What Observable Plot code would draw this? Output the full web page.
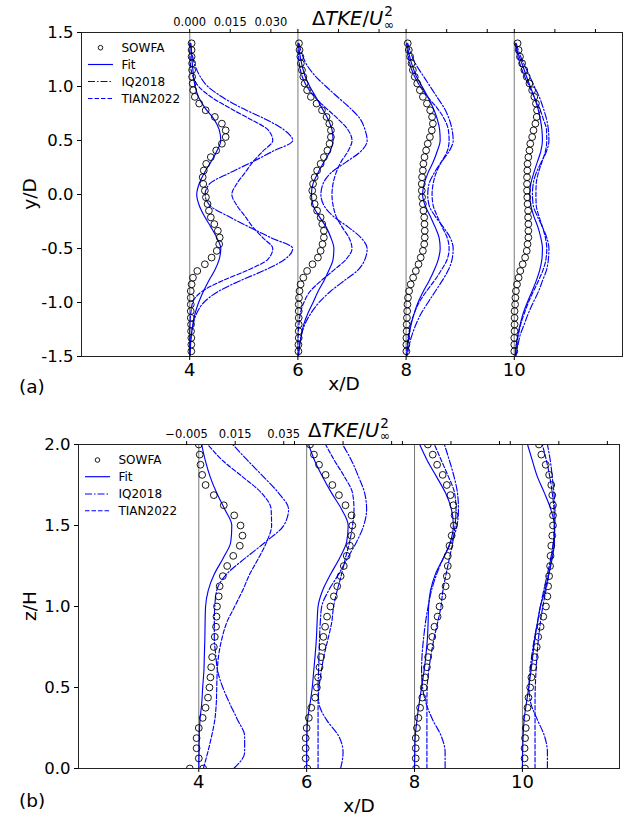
<!DOCTYPE html>
<html>
<head>
<meta charset="utf-8">
<script src="https://cdn.jsdelivr.net/npm/d3@7"></script>
<script src="https://cdn.jsdelivr.net/npm/@observablehq/plot@0.6"></script>
<style>
  html, body { margin: 0; padding: 0; background: #fff; }
  #fig { position: relative; width: 624px; height: 816px; overflow: hidden; background: #fff; }
  #fig svg { position: absolute; left: 0; }
</style>
</head>
<body>
<div id="fig"></div>
<script>
// ---------------- DATA ----------------
const profilesX = [4, 6, 8, 10];                 // x/D of each profile
const seriesNames = ["SOWFA", "Fit", "IQ2018", "TIAN2022"];

// Panel (a): lateral profiles.  Values are ΔTKE/U∞² × 10³
const yLineA = [1.4,1.3,1.2,1.1,1.0,0.9,0.8,0.7,0.6,0.5,0.4,0.3,0.2,0.1,0.0,-0.1,-0.2,-0.3,-0.4,-0.5,-0.6,-0.7,-0.8,-0.9,-1.0,-1.1,-1.2,-1.3,-1.4,-1.5];
const ySowfaA = [1.400,1.338,1.276,1.214,1.152,1.090,1.028,0.966,0.904,0.842,0.780,0.718,0.656,0.594,0.532,0.470,0.408,0.346,0.284,0.222,0.160,0.098,0.036,-0.026,-0.088,-0.150,-0.212,-0.274,-0.336,-0.398,-0.460,-0.522,-0.584,-0.646,-0.708,-0.770,-0.832,-0.894,-0.956,-1.018,-1.080,-1.142,-1.204,-1.266,-1.328,-1.390,-1.452];

const fitA = [
  [0.4,0.7,1.0,1.4,2.0,3.3,5.7,8.9,10.9,11.5,10.0,7.8,5.4,3.5,2.6,3.5,5.4,7.8,10.0,11.5,10.9,9.3,7.0,5.0,3.3,2.0,1.2,0.6,0.3,0.1],
  [0.2,0.7,1.5,2.6,4.4,6.7,8.9,11.1,12.6,13.0,11.9,9.6,7.4,5.6,5.0,5.6,7.8,10.4,12.2,13.3,13.0,11.5,9.6,7.4,5.6,3.7,2.2,1.3,0.6,0.2],
  [0.3,1.1,2.2,3.7,5.9,8.1,10.0,11.5,12.4,12.6,11.5,10.0,8.1,6.7,6.1,7.0,8.9,10.7,12.2,12.6,11.9,10.4,8.5,6.3,4.4,3.0,1.9,1.1,0.6,0.2],
  [0.4,1.5,3.0,4.4,5.9,7.4,8.7,9.6,10.2,10.4,9.8,8.5,7.2,6.1,5.7,6.1,7.2,8.7,9.8,10.4,10.2,9.4,8.1,6.5,4.8,3.3,2.2,1.3,0.7,0.3]
];
const iqA = [
  [0.3,0.9,1.9,3.7,6.7,12.2,19.3,27.8,34.8,38.1,30.7,23.0,14.8,7.4,5.7,7.4,14.1,21.9,30.0,38.1,35.2,27.8,18.5,10.4,5.2,2.6,1.3,0.6,0.2,0.1],
  [0.4,1.5,3.3,6.3,10.4,14.8,19.3,23.0,24.8,25.6,23.3,17.8,12.2,9.3,8.5,9.6,13.0,18.5,23.3,25.6,24.8,22.2,17.0,11.9,7.8,4.8,2.6,1.3,0.6,0.2],
  [0.6,1.9,3.7,6.3,8.9,11.5,14.1,15.9,17.0,17.4,15.9,13.0,10.4,8.5,8.0,8.5,10.7,13.7,16.3,17.4,17.0,15.6,13.3,10.7,8.1,5.6,3.7,2.2,1.1,0.4],
  [0.7,2.0,3.7,5.6,7.4,9.3,10.7,11.9,12.6,12.8,11.9,10.0,8.1,7.0,6.7,7.0,8.5,10.4,12.0,12.8,12.6,11.9,10.4,8.9,7.0,5.2,3.7,2.2,1.3,0.6]
];
const tianA = [
  [0,0.1,0.3,1.1,3.3,8.1,14.8,22.2,28.9,30.7,27.0,23.3,20.4,17.4,15.6,17.4,20.4,23.3,27.0,30.7,28.9,21.5,11.9,4.4,1.1,0.4,0.1,0,0,0],
  [0,0.2,0.6,1.5,3.3,6.3,10.4,14.8,18.5,20.0,18.5,15.9,14.1,13.0,12.6,13.0,14.1,16.3,18.9,20.0,17.8,13.3,8.5,4.4,2.2,0.9,0.4,0.1,0,0],
  [0.2,0.7,1.5,3.0,5.2,8.1,11.5,14.1,15.6,15.9,15.2,13.0,11.1,10.0,9.6,10.0,11.5,13.3,15.2,15.9,15.2,13.0,10.4,7.4,4.8,3.0,1.7,0.9,0.4,0.1],
  [0.4,1.1,2.2,3.7,5.6,7.4,9.3,10.7,11.9,12.0,11.5,10.2,8.9,8.1,8.0,8.1,9.1,10.4,11.5,12.0,11.7,10.6,8.9,7.0,5.2,3.7,2.4,1.5,0.7,0.3]
];
const sowfaA = [
  [0.7,0.7,0.7,0.9,0.9,0.9,1.1,1.3,1.9,3.5,5.9,9.3,11.9,13.3,13.3,11.9,9.8,7.8,6.1,5.2,4.8,5.0,5.6,6.0,6.6,7.1,7.8,9.1,10.4,11.1,10.9,10.0,8.1,5.6,2.8,1.2,0.7,0.4,0.4,0.4,0.4,0.4,0.5,0.5,0.6,0.6,0.6],
  [0.4,0.6,0.9,1.1,1.5,2.0,2.5,3.4,4.8,6.9,8.9,10.6,11.6,12.2,12.2,11.7,10.9,9.6,8.4,7.1,6.2,5.6,5.3,5.7,6.2,7.1,8.4,9.0,9.6,9.6,9.1,8.4,7.4,5.4,3.4,2.0,1.0,0.6,0.4,0.3,0.3,0.3,0.3,0.3,0.3,0.2,0.2],
  [0.6,1.0,1.5,2.0,2.5,3.2,4.1,5.1,6.2,7.7,8.9,9.6,9.9,9.5,8.8,8.0,7.4,6.8,6.4,6.2,5.9,5.8,5.8,5.9,6.2,6.4,6.7,6.8,6.9,6.9,6.7,6.2,5.4,4.6,3.6,2.6,1.7,1.1,0.7,0.5,0.4,0.3,0.2,0.2,0.1,0.1,0.1],
  [1.2,1.6,2.1,2.9,3.7,4.6,5.6,6.6,7.4,8.0,8.4,8.3,7.8,7.1,6.6,5.9,5.6,5.2,4.9,4.8,4.7,4.7,4.7,4.8,4.9,5.1,5.1,5.2,5.2,5.2,4.9,4.6,4.0,3.1,2.2,1.6,1.0,0.6,0.4,0.3,0.1,0.1,0.1,0.1,0,0,0]
];

// Panel (b): vertical profiles.  Values are ΔTKE/U∞² × 10³
const zLineB = [0,0.1,0.2,0.3,0.4,0.5,0.6,0.7,0.8,0.9,1.0,1.1,1.2,1.3,1.4,1.5,1.6,1.7,1.8,1.9,2.0];
const zSowfaB = [0,0.0625,0.125,0.1875,0.25,0.3125,0.375,0.4375,0.5,0.5625,0.625,0.6875,0.75,0.8125,0.875,0.9375,1.0,1.0625,1.125,1.1875,1.25,1.3125,1.375,1.4375,1.5,1.5625,1.625,1.6875,1.75,1.8125,1.875,1.9375,2.0];

const fitB = [
  [0,0.1,0.2,0.5,1.2,1.6,2.1,2.3,2.5,2.6,2.8,3.9,6.4,10.1,13.2,13.6,10.7,7.4,4.7,2.7,1.2],
  [0,0,0.1,0.4,1.4,2.3,2.9,3.5,4.0,4.3,4.7,6.6,9.9,13.6,16.5,17.1,14.4,10.3,6.6,3.3,0.8],
  [0,0.1,0.3,1.0,1.9,2.9,3.9,4.7,5.3,5.6,5.8,6.6,8.6,11.9,14.8,16.0,15.2,12.8,9.1,5.3,2.1],
  [0,0.1,0.3,0.7,1.6,2.6,3.5,4.3,5.1,6.2,7.4,9.3,10.9,12.3,13.2,13.2,11.7,9.1,6.2,4.1,2.1]
];
const iqB = [
  [14.4,18.9,18.9,16.0,12.8,9.9,7.8,7.0,6.4,6.4,6.6,7.4,11.5,19.3,27.6,35.0,37.0,32.9,26.7,20.2,14.0],
  [14.0,15.0,13.2,8.2,5.1,4.7,4.9,5.1,5.3,5.6,6.2,9.1,13.2,16.9,20.6,23.5,24.7,23.9,21.4,18.5,14.8],
  [12.6,12.6,11.0,7.5,4.8,3.3,2.9,3.1,3.7,4.5,5.6,7.0,9.1,11.9,15.2,17.5,18.1,17.7,16.3,14.4,12.3],
  [10.3,10.3,9.1,6.2,3.5,2.7,3.1,3.9,4.9,6.2,7.4,8.8,10.3,11.7,12.8,13.4,13.4,13.0,12.3,11.5,10.3]
];
const tianB = [
  [1.9,3.7,5.3,6.6,7.2,7.4,7.6,8.2,9.5,11.5,14.8,18.1,21.0,24.7,28.0,30.0,29.8,25.9,18.1,9.9,3.7],
  [4.7,4.7,4.7,4.7,4.7,5.1,6.0,7.2,8.8,10.3,11.1,12.6,14.4,16.0,17.7,18.9,19.5,18.9,15.6,11.5,7.8],
  [5.1,5.1,5.1,5.1,5.1,5.2,5.8,6.8,8.0,9.5,10.9,11.7,13.0,14.4,15.8,16.7,17.1,16.5,14.0,11.1,8.2],
  [5.2,5.2,5.2,5.2,5.2,5.3,5.6,6.0,6.6,7.4,8.4,9.7,10.9,11.9,12.8,13.1,13.0,12.3,11.3,9.9,8.2]
];
const sowfaB = [
  [1.8,0,-0.9,-0.9,0,1.6,2.8,3.8,4.4,4.8,5.1,5.5,6.2,6.6,7.1,7.3,7.5,8.2,8.6,9.9,11.7,14.2,16.9,18.0,17.2,14.6,10.3,6.2,2.8,1.4,0.7,0.4,0],
  [0.3,-0.4,-0.4,-0.4,0,0.9,1.9,3.5,4.2,4.7,5.3,5.9,6.5,6.9,7.6,8.4,9.8,11.2,12.6,14.0,15.3,16.5,17.8,18.4,18.8,18.5,16.0,13.3,10.6,7.8,5.1,3.0,1.4],
  [0.6,0.5,0.5,0.5,1.0,1.6,2.3,3.2,3.8,4.4,5.1,5.6,6.6,7.3,8.2,9.5,10.3,11.5,12.8,13.3,13.7,13.7,14.4,15.3,16.2,16.5,16.0,14.8,13.3,11.6,9.3,7.5,5.5],
  [1.1,0.9,0.9,1.1,1.4,1.6,2.1,2.5,3.2,3.7,4.5,5.1,5.9,6.5,7.5,8.6,9.7,10.3,10.6,11.0,11.4,11.6,11.9,12.3,12.6,12.6,12.6,12.3,11.9,11.0,9.6,7.8,6.8]
];
const sowfaBExtra = [{x0: 4, z: 0, v: -3.7}];   // extra SOWFA sample at the ground, x/D = 4

// Tick values / labels
const yTicksA = [-1.5,-1.0,-0.5,0.0,0.5,1.0,1.5];
const zTicksB = [0.0,0.5,1.0,1.5,2.0];
const topTicksA = [0.000, 0.015, 0.030];
const topLabelsA = ["0.000", "0.015", "0.030"];
const topTicksB = [-0.005, 0.015, 0.035];
const topLabelsB = ["\u22120.005", "0.015", "0.035"];

// ---------------- DRAWING ----------------
const FONT = "'DejaVu Sans', sans-serif";
const BLUE = "#0000ff";
const DASH = {Fit: null, IQ2018: "7,2,1.5,2", TIAN2022: "4.5,2"};
const fig = document.getElementById("fig");

function makePanel(c) {
  const lines = {Fit: [], IQ2018: [], TIAN2022: []};
  const dots = [];
  profilesX.forEach((x0, p) => {
    c.fit[p].forEach((v, i) => lines.Fit.push({x: x0 + v * c.k, y: c.yLine[i], p: x0}));
    c.iq[p].forEach((v, i) => lines.IQ2018.push({x: x0 + v * c.k, y: c.yLine[i], p: x0}));
    c.tian[p].forEach((v, i) => lines.TIAN2022.push({x: x0 + v * c.k, y: c.yLine[i], p: x0}));
    c.sowfa[p].forEach((v, i) => dots.push({x: x0 + v * c.k, y: c.ySowfa[i]}));
  });
  (c.extra || []).forEach(e => dots.push({x: e.x0 + e.v * c.k, y: e.z}));

  const topVals = [];
  const topLab = new Map();
  profilesX.forEach((x0, p) => c.topTicks.forEach((t, j) => {
    const v = +(x0 + t * 1000 * c.k).toFixed(6);
    topVals.push(v);
    if (p === 0) topLab.set(v, c.topLabels[j]);
  }));

  const lineMark = (name) => Plot.line(lines[name], {
    x: "x", y: "y", z: "p", stroke: BLUE, strokeWidth: 1.15,
    strokeDasharray: DASH[name] || undefined, curve: "monotone-y"
  });

  const svg = Plot.plot({
    width: 624, height: 408,
    marginLeft: c.ml, marginRight: c.mr, marginTop: c.mt, marginBottom: c.mb,
    x: {domain: c.xDomain},
    y: {domain: c.yDomain},
    style: {fontFamily: FONT, color: "black", background: "white", overflow: "visible"},
    marks: [
      Plot.ruleX(profilesX, {stroke: c.baseColor, strokeWidth: c.baseWidth}),
      lineMark("TIAN2022"),
      lineMark("IQ2018"),
      lineMark("Fit"),
      Plot.dot(dots, {x: "x", y: "y", r: 3.4, stroke: "black", fill: "none", strokeWidth: 0.9, clip: true}),
      Plot.frame({stroke: "#222", strokeWidth: 1}),
      Plot.axisY({ticks: c.yTicks, tickFormat: d => d.toFixed(1), tickSize: 4, tickPadding: 4, fontSize: 16.5, label: null}),
      Plot.axisX({anchor: "bottom", ticks: profilesX, tickFormat: d => String(d), tickSize: 4, tickPadding: 3, fontSize: 18, label: null}),
      Plot.axisX(topVals, {anchor: "top", tickFormat: d => topLab.get(d) ?? "", tickSize: 4, tickPadding: 3, fontSize: 11.5, label: null})
    ]
  });
  svg.style.top = c.top + "px";
  fig.appendChild(svg);

  const s = d3.select(svg);
  const fx = c.ml, fy = c.mt;

  // legend
  const lg = s.append("g").attr("font-family", FONT).attr("font-size", 12)
    .attr("fill", "black").attr("text-anchor", "start");
  seriesNames.forEach((name, i) => {
    const yy = fy + c.legRows[i];
    if (name === "SOWFA") {
      lg.append("circle").attr("cx", fx + 19.5).attr("cy", yy).attr("r", 2.3)
        .attr("fill", "none").attr("stroke", "black").attr("stroke-width", 0.9);
    } else {
      const ln = lg.append("line").attr("x1", fx + 7).attr("x2", fx + 32).attr("y1", yy).attr("y2", yy)
        .attr("stroke", BLUE).attr("stroke-width", 1.15);
      if (DASH[name]) ln.attr("stroke-dasharray", DASH[name]);
    }
    lg.append("text").attr("x", fx + 40.5).attr("y", yy).attr("dy", "0.36em")
      .attr("text-anchor", "start").text(name);
  });

  // axis labels
  s.append("text").attr("font-family", FONT).attr("font-size", 18.5)
    .attr("text-anchor", "middle").attr("dy", "0.36em")
    .attr("transform", `translate(29,${fy + 162}) rotate(-90)`).text(c.ylabel);
  s.append("text").attr("font-family", FONT).attr("font-size", 18.5)
    .attr("text-anchor", "middle").attr("dy", "0.36em")
    .attr("x", c.xlabX).attr("y", c.xlabY).text("x/D");
  s.append("text").attr("font-family", FONT).attr("font-size", 18.5)
    .attr("text-anchor", "start").attr("dy", "0.36em")
    .attr("x", 19).attr("y", c.tagY).text(c.tag);

  // ΔTKE/U∞² label
  const t = s.append("text").attr("font-family", FONT).attr("font-size", 19.5)
    .attr("text-anchor", "start").attr("x", c.tkeX).attr("y", c.tkeY);
  t.append("tspan").text("\u0394");
  t.append("tspan").attr("font-style", "italic").text("TKE");
  t.append("tspan").text("/");
  t.append("tspan").attr("font-style", "italic").text("U");
  const w = t.node().getComputedTextLength();
  s.append("text").attr("font-family", FONT).attr("font-size", 13.5).attr("text-anchor", "start")
    .attr("x", c.tkeX + w + 1).attr("y", c.tkeY - 9).text("2");
  s.append("text").attr("font-family", FONT).attr("font-size", 12.5).attr("text-anchor", "start")
    .attr("x", c.tkeX + w + 0.5).attr("y", c.tkeY + 3.5).text("\u221E");
}

makePanel({
  top: 0, ml: 81, mr: 2, mt: 32, mb: 52,
  xDomain: [2, 12], yDomain: [-1.5, 1.5], yTicks: yTicksA, k: 0.05,
  yLine: yLineA, ySowfa: ySowfaA, fit: fitA, iq: iqA, tian: tianA, sowfa: sowfaA,
  topTicks: topTicksA, topLabels: topLabelsA,
  baseColor: "#999", baseWidth: 1.3,
  legRows: [15.7, 32.5, 49.5, 66.5],
  ylabel: "y/D", xlabX: 344, xlabY: 383, tag: "(a)", tagY: 386.5,
  tkeX: 312, tkeY: 25
});
makePanel({
  top: 408, ml: 78, mr: 5, mt: 36, mb: 48,
  xDomain: [1.77, 11.8], yDomain: [0, 2], yTicks: zTicksB, k: 0.045,
  yLine: zLineB, ySowfa: zSowfaB, fit: fitB, iq: iqB, tian: tianB, sowfa: sowfaB, extra: sowfaBExtra,
  topTicks: topTicksB, topLabels: topLabelsB,
  baseColor: "#666", baseWidth: 0.9,
  legRows: [16, 32.7, 50, 66.7],
  ylabel: "z/H", xlabX: 359, xlabY: 397.5, tag: "(b)", tagY: 392,
  tkeX: 308, tkeY: 28.7
});
</script>
</body>
</html>
